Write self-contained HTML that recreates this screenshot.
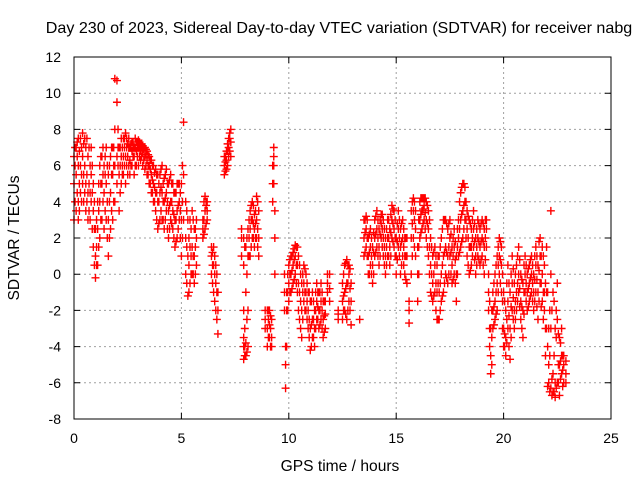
<!DOCTYPE html>
<html><head><meta charset="utf-8"><style>
body{margin:0;background:#fff}
svg{display:block;font-family:"Liberation Sans",sans-serif}
</style></head><body>
<svg id="chart" width="640" height="480" viewBox="0 0 640 480">
<rect width="640" height="480" fill="#fff"/>
<text x="339" y="33" text-anchor="middle" font-size="16.1">Day 230 of 2023, Sidereal Day-to-day VTEC variation (SDTVAR) for receiver nabg</text>
<text transform="translate(19,238) rotate(-90)" text-anchor="middle" font-size="15.6">SDTVAR / TECUs</text>
<text x="340" y="471" text-anchor="middle" font-size="15.6">GPS time / hours</text>
<g id="grid"></g><g id="ticks"></g><g id="marks"></g>
<rect x="74" y="57" width="537" height="362" fill="none" stroke="#000" stroke-width="1"/>
</svg>
<script>
const xTicks=[0,5,10,15,20,25];
const yTicks=[-8,-6,-4,-2,0,2,4,6,8,10,12];
const times=[0,0.1,0.2,0.3,0.4,0.5,0.6,0.7,0.8,0.9,1.0,1.1,1.2,1.3,1.4,1.5,1.6,1.7,1.8,1.9,2.0,2.1,2.2,2.3,2.4,2.5,2.6,2.7,2.8,2.9,3.0,3.1,3.2,3.3,3.4,3.5,3.6,3.7,3.8,3.9,4.0,4.1,4.2,4.3,4.4,4.5,4.6,4.7,4.8,4.9,5.0,5.1,5.2,5.3,5.4,5.5,5.6,5.7,6.0,6.1,6.2,6.4,6.5,6.6,6.7,7.0,7.1,7.2,7.3,7.8,7.9,8.0,8.1,8.2,8.3,8.4,8.5,8.6,8.9,9.0,9.1,9.2,9.25,9.3,9.35,9.8,9.85,9.9,10.0,10.1,10.2,10.3,10.4,10.5,10.6,10.7,10.8,10.9,11.0,11.1,11.2,11.3,11.4,11.5,11.6,11.7,11.8,11.9,12.3,12.5,12.6,12.7,12.8,12.9,13.3,13.5,13.6,13.7,13.8,13.9,14.0,14.1,14.2,14.3,14.4,14.5,14.6,14.7,14.8,14.9,15.0,15.1,15.2,15.3,15.4,15.5,15.6,15.7,15.8,15.9,16.0,16.1,16.2,16.3,16.4,16.5,16.6,16.7,16.8,16.9,17.0,17.1,17.2,17.3,17.4,17.5,17.6,17.7,17.8,17.9,18.0,18.1,18.2,18.3,18.4,18.5,18.6,18.7,18.8,18.9,19.0,19.1,19.2,19.3,19.4,19.5,19.6,19.7,19.8,19.9,20.0,20.1,20.2,20.3,20.4,20.5,20.6,20.7,20.8,20.9,21.0,21.1,21.2,21.3,21.4,21.5,21.6,21.7,21.8,21.9,22.0,22.1,22.2,22.3,22.4,22.5,22.6,22.7,22.8,22.9];
const values=[[3,5,6.5],[3.5,5.5,7],[4,6,7.5,3],[4.5,6,7.5],[5,6.5,7.8],[4.5,6,7.5],[4,5.5,7.5],[3.5,5,7],[4,5.5,7],[1.5,3.5,5],[-0.2,1,2.5],[0.5,2.5,4],[2,4,6],[3,5,6.5],[2.5,4.5,6],[3,5,7],[1,3,5.5],[2.5,4.5,6.5],[3,5.5,7],[4,6,8,10.8],[5,6.5,9.5,10.7],[3.5,5.5,7],[5,6.5,7.5],[5.5,6.5,7.5],[5,6.5,7.8],[5.5,6.5,7.2],[5.5,6.3,7],[6,6.8,7.3],[5.5,6.5,7],[6,6.8,7.3],[6,7,7.4],[6.3,6.8,7.2],[6,6.7,7.1],[5.8,6.5,7],[5.5,6.3,6.8],[5,6,6.5],[4.5,5.5,6.3],[4,5,6],[3.5,4.5,5.8],[2.5,4,5.5],[3,4.5,5.5],[3,4.5,6],[2.5,4,5.3],[3.5,4.5,5.8],[2,3.5,5],[3,4,5.5],[2.5,3.5,5],[1.5,3,4.5],[2,3.5,5],[3,4,5],[1,3,5],[3,5.5,8.4],[0,2,4],[-1.2,1,3],[-0.5,1.5,3],[0,1.5,3.5],[-0.5,1,2.5],[0.5,2,3],[2,2.5,3],[2.5,3.5,4.3],[3,3.5,4],[0,1,1.5],[-1,0.5,1.5],[-2,-0.5,0.5],[-3.3,-2,-1],[5.5,6,6.5],[5.8,6.3,6.8],[6.5,7,7.5],[6.5,7.3,8],[1,2,2.5],[-4.7,-4,-3.5,-2,0.5,2],[-4.5,-3.8,-1,1.5],[-4,-2,1,2.5],[1,2.5,3.5],[2,3,4],[1.5,2.5,3.3],[2,3,4.3],[1,2,3.5],[-3,-2.5,-2],[-4,-3,-2],[-3.5,-2.8,-2],[-4,-3.5,-2.5],[4,5,6],[5,6,6.5,7],[0,2,3.5],[-1,0,-2],[-6.3,-5,-4],[-4,-2,-1],[-1.5,-0.5,0.5],[-1,0,1],[-0.5,0.5,1.2],[0,1,1.6],[-1,0.5,1.5],[-2.5,-1,0.5],[-3.5,-2,-0.5],[-1.5,-0.5,0.5],[-2,-1,0],[-3,-2,-1],[-4.2,-3,-1.5],[-3.5,-2.5,-1],[-4,-3,-2],[-2.5,-1.5,-0.5],[-3,-2,-1],[-2.5,-1.5,-0.5],[-3.5,-2.5,-1.5],[-3,-2.2,-1.5],[-1,-0.5,0],[-1.5,-0.8,0],[-2.5,-2.2,-2],[-2.5,-1.5,-0.5],[-2,-1,0.5],[-2.5,-0.5,0.8],[-1.5,0,0.5],[-2.8,-1.5,-0.5],[-2.5],[1,2,3],[1.5,2.5,3.2],[0,1,2],[0.5,1.5,2.5],[-0.5,0.5,1.5],[1,2,3],[1.5,2.5,3.5],[0.5,1.5,2.5],[2,2.8,3.3],[1,2,3],[0,1,2],[1,2,3],[0.5,1.5,2.5],[2,3,3.8],[1.5,2.5,3.5],[0,1,2],[1.5,2.5,3.5],[0,1.5,2.5],[1,2,3],[0,1,2],[-0.5,1,2],[-2.7,-2,-1.5],[0,2,3.5],[2,3.5,4.2],[1,2.5,3.5],[-1.5,0,1.5],[2,3,4],[2.5,3.5,4.2],[3,3.8,4.2],[2,3,4],[1,2.5,3.5],[-1,0.5,2],[-1.5,-0.5,1],[-1,0.5,1.5],[-2.5,-1,0.5],[-2.5,-1,1],[-1.5,0,2],[-1,1,3],[0,1.5,3],[-0.5,1,2.5],[1,2,3],[-0.5,0.5,1.5],[0,1.5,2.5],[-1.5,0,1],[1,2,3],[1.5,3,4.5],[2,3.5,5],[3,4,4.8],[1,2.5,3.5],[0,1.5,3],[0.5,1.5,2.5],[1.5,2.5,3.5],[0,1,2],[1,2,3],[0.5,1.5,2.5],[1,2,3],[0,1.5,2.5],[1.5,2.5,3],[-2,-1,0],[-5.5,-4.5,-3],[-3,-2,-1],[-2.5,-1.5,0],[-2,-0.5,1],[0,1,2],[-1,0.5,1.5],[-4,-3,-1],[-4.5,-3.5,-2],[-3,-1.5,0.5],[-4.7,-3,-1],[-2,-0.5,1],[-3,-2,-0.5],[-2,-1,0.5],[-1,0,1.5],[-2.5,-1.5,0],[-3.5,-2,-0.5],[-1,0,1],[-2,-1,0],[-1.5,-0.5,0.5],[-1,0,1],[-2,-1,0],[-1,0.5,1.5],[-2.5,-1,0.5],[-0.5,1,2],[-1.5,0,1.5],[-2,-1,0.5],[-3,-1,1.5],[-6,-5,-3],[-6.3,-3,0,3.5],[-6.5,-5.5,-1],[-6.8,-6,-3],[-6,-2.5,-0.5],[-6.7,-5,-3.5],[-5.5,-4.5,-3],[-6,-5,-4.5],[-6,-5.5,-4.8]];
const times2=[0.05,0.15,0.25,0.35,0.45,0.55,0.65,0.75,0.85,0.95,1.05,1.15,1.25,1.35,1.45,1.55,1.65,1.75,1.85,2.05,2.15,2.25,2.35,2.45,2.55,2.65,2.75,2.85,2.95,3.05,3.15,3.25,3.35,3.45,3.55,3.65,3.75,3.85,3.95,4.05,4.15,4.25,4.35,4.45,4.55,4.65,4.75,4.85,4.95,5.05,5.25,5.35,5.45,5.55,5.65,6.05,6.15,6.45,6.55,6.65,7.05,7.15,7.25,7.95,8.05,8.15,8.25,8.35,8.45,8.55,9.05,9.15,9.95,10.05,10.15,10.25,10.35,10.45,10.55,10.65,10.75,10.85,10.95,11.05,11.15,11.25,11.35,11.45,11.55,11.65,12.55,12.65,12.75,12.85,13.55,13.65,13.75,13.85,13.95,14.05,14.15,14.25,14.35,14.45,14.55,14.65,14.75,14.85,14.95,15.05,15.15,15.25,15.35,15.45,15.75,15.85,16.05,16.15,16.25,16.35,16.45,16.55,16.65,16.75,16.85,16.95,17.05,17.15,17.25,17.35,17.45,17.55,17.65,17.75,17.85,17.95,18.05,18.15,18.25,18.35,18.45,18.55,18.65,18.75,18.85,18.95,19.05,19.15,19.35,19.45,19.55,19.65,19.75,19.85,19.95,20.05,20.15,20.25,20.35,20.45,20.55,20.65,20.75,20.85,20.95,21.05,21.15,21.25,21.35,21.45,21.55,21.65,21.75,21.85,21.95,22.05,22.15,22.25,22.35,22.45,22.55,22.65,22.75,22.85];
const values2=[[4,6,7],[4.5,6.5,7.3],[5,6.8,3.5],[5.5,7,4],[5.5,7.2,4],[5,7,3.5],[4.5,6.5,3],[4.5,6,3],[2.5,4.5,6],[0.5,2.5,4],[0.5,1.5,3],[1.5,3.5,5],[3,5,6.5],[4,5.5,7],[3.5,5.5,6.5],[2,4,6],[2,4,6],[3.5,5.5,7],[4,6,7],[6,7,8],[4.5,6,7],[5.5,6,7],[6,7,7.5],[6,7,7.5],[6,7,7.5],[6,7,7.2],[6.5,7,7.3],[6,7,7.5],[6.5,7,7.3],[6.5,7,7.3],[6.5,7,7.2],[6.3,6.9,7],[6,6.6,6.9],[5.5,6,6.6],[5,5.8,6.3],[4.5,5.2,6],[4,4.8,5.6],[3,4.5,5.5],[2.8,4,5],[3.5,4.8,5.8],[3,4,5],[3,4.2,5.5],[2.5,4,5],[2.5,3.8,5.2],[2.8,4,5],[2,3.3,4.5],[1.8,3,4.5],[2.5,3.8,5],[2,3.5,4.5],[2,4,6],[-0.5,1.5,3.5],[-1,0.5,2],[0,1,2.5],[0,1,3],[0,1.5,2.5],[2.2,3,4],[2.8,3.8,4],[-0.5,0.5,1.2],[-1.5,0,1],[-2.5,-1,0],[5.7,6.2,6.5],[6,6.8,7.2],[6.8,7.5,7.8],[-4.5,-4,-3,1.5],[-4.3,-2.5,0,2],[1,2,3],[1.5,3,3.8],[2,2.8,3.8],[2,2.8,3.5],[1.5,2.5,4],[-3.5,-2.5,-2],[-4,-3,-2.3],[-2,-1,0],[-1,0,0.8],[-0.8,0.2,1],[-0.3,0.8,1.4],[-0.5,0.5,1.5],[-2,-0.5,1],[-3,-1.5,0],[-2.5,-1,0],[-2,-1,0.3],[-2.5,-1.5,-0.5],[-3.5,-2.5,-1],[-4,-2.8,-1.5],[-3.5,-2.5,-1.5],[-3,-2,-1],[-2.5,-1.8,-1],[-2.8,-2,-1],[-3,-2,-1],[-3.2,-2.3,-1.5],[-2,-1.2,0],[-2.2,-0.8,0.6],[-2,-0.5,0.5],[-2,-0.8,0.3],[1.2,2.3,3],[1,2,3],[0,1.2,2.2],[0,1,2],[0,1.2,2.3],[1.2,2.2,3.2],[1,2,3],[1,2.2,3],[1.5,2.5,3.3],[0.5,1.5,2.5],[0.5,1.5,2.5],[1,2,3],[1,2.3,3.3],[1.8,2.8,3.6],[1,2,3],[0.8,1.8,2.8],[1,2,3],[0.5,1.8,2.8],[0.5,1.5,2.5],[-0.3,1,2],[1,2.8,4],[1.5,3,4],[0,1.5,3],[2.3,3.3,4.2],[2.8,3.6,4.2],[2.5,3.4,4.2],[1.5,2.8,3.8],[0,1.5,3],[-1.2,0,1.5],[-1.2,0,1.2],[-2,-0.5,1],[-2.5,-0.5,1],[-2,-0.5,1.5],[-1.2,0.5,2.5],[-0.5,1.2,3],[-0.2,1.2,2.8],[0,1.5,2.8],[0,1.2,2.2],[-0.3,1,2],[-0.5,0.8,1.8],[0,1.5,2.5],[1.2,2.5,4],[1.8,3.3,4.8],[2.5,3.8,5],[2,3,4],[0.5,2,3.2],[0.2,1.5,2.8],[1,2,3],[0.8,1.8,2.8],[0.5,1.5,2.5],[0.8,1.8,2.8],[0.8,1.8,2.8],[0.5,1.8,2.8],[0.8,2,3],[-4,-3,-1.5],[-5,-3.5,-2],[-2.8,-1.8,-0.5],[-2.2,-1,0.5],[-1,0.5,1.5],[-0.5,0.8,1.8],[-3,-1.5,0],[-4,-3.3,-1.5],[-3.8,-2.5,-0.5],[-4,-2.3,-0.5],[-3.5,-1.8,0],[-2.5,-1.3,0.3],[-2.5,-1.5,0],[-1.5,-0.5,1],[-1.8,-0.8,0.8],[-3,-1.8,-0.3],[-2.2,-1,0.5],[-1.5,-0.5,0.5],[-1.8,-0.8,0.3],[-1.2,-0.2,0.8],[-1.5,-0.5,0.5],[-1.5,-0.3,1],[-1.8,-0.3,1],[-1.5,0.2,1.8],[-1.8,-0.5,1],[-2.5,-1,1],[-4.5,-3,-0.5],[-6.2,-4,-1],[-6.5,-4.5,-2],[-6.7,-5.8,-2],[-6.5,-4.5,-1.5],[-6.3,-3.5,-2],[-6,-5,-3.3],[-5.8,-4.8,-3.8],[-6.2,-5.3,-4.5]];
const X0=74,X1=611,Y0=419,Y1=57,xMin=0,xMax=25,yMin=-8,yMax=12;
function xs(v){return X0+(v-xMin)/(xMax-xMin)*(X1-X0);}
function ys(v){return Y0-(v-yMin)/(yMax-yMin)*(Y0-Y1);}
const NS='http://www.w3.org/2000/svg';
function mk(tag,attrs,parent){const e=document.createElementNS(NS,tag);for(const k in attrs)e.setAttribute(k,attrs[k]);parent.appendChild(e);return e;}
const grid=document.getElementById('grid'),ticks=document.getElementById('ticks'),marks=document.getElementById('marks');
xTicks.forEach(t=>{const x=xs(t);
 if(t>xMin&&t<xMax){const g=mk('line',{x1:x,x2:x,y1:Y1,y2:Y0,stroke:'#a0a0a0','stroke-dasharray':'2,3'},grid);
 
 }
 const tm=mk('path',{d:`M${x},${Y0}v-6M${x},${Y1}v6`,stroke:'#000'},ticks);
 
 
 const l=mk('text',{x:x,y:Y0+24,'text-anchor':'middle','font-size':'14'},ticks);l.textContent=t;
 
 });
yTicks.forEach(t=>{const y=ys(t);
 if(t>yMin&&t<yMax){const g=mk('line',{x1:X0,x2:X1,y1:y,y2:y,stroke:'#a0a0a0','stroke-dasharray':'2,3'},grid);
 
 }
 const tm=mk('path',{d:`M${X0},${y}h6M${X1},${y}h-6`,stroke:'#000'},ticks);
 
 
 const l=mk('text',{x:X0-13,y:y+5,'text-anchor':'end','font-size':'14'},ticks);l.textContent=t;
 
 });
let d='';
function addSeries(ts,vs){const n=Math.min(ts.length,vs.length);for(let i=0;i<n;i++){const t=ts[i];(vs[i]||[]).forEach(v=>{const x=xs(t),y=ys(v);d+=`M${x-4},${y}h8M${x},${y-4}v8`;});}}
addSeries(times,values);
addSeries(times2,values2);
const p=mk('path',{d:d,stroke:'#ff0000','stroke-width':'1.4',fill:'none'},marks);


</script>
</body></html>
